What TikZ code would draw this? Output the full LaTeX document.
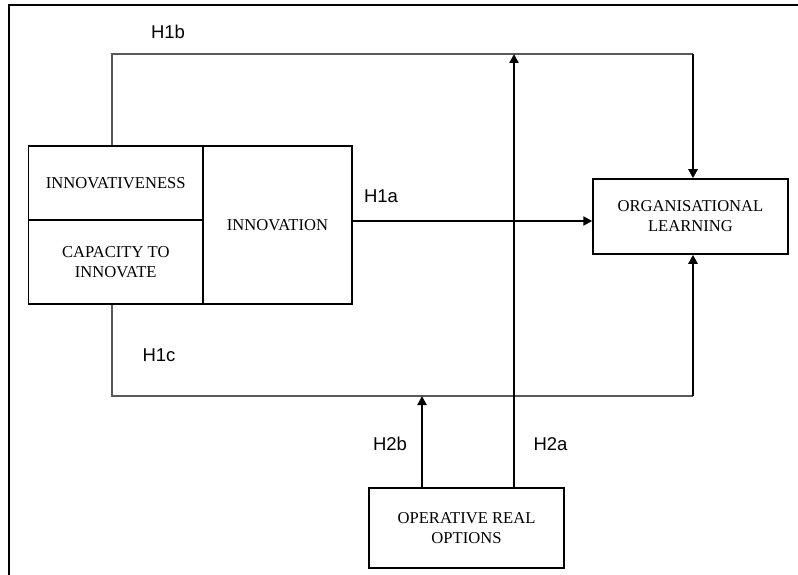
\documentclass[tikz,border=0pt]{standalone}
\usepackage{fontspec}
\setmainfont{Liberation Serif}
\newfontfamily\arialf{Liberation Sans}
\usetikzlibrary{arrows.meta}
\begin{document}
\begin{tikzpicture}[x=1pt,y=-1pt,
  boxs/.style={draw=black,line width=1.5pt,align=center,inner sep=0pt,
    font=\fontsize{16.6}{20}\selectfont},
  thinln/.style={draw=black!65,line width=1.1pt},
  thickln/.style={draw=black,line width=2.6pt},
  arr/.style={thickln,-{Triangle[length=9pt,width=9pt]}},
  hlab/.style={font=\arialf\fontsize{18.5}{20}\selectfont,inner sep=0pt}]
\useasboundingbox (0,0) rectangle (798,575);
% frame (cropped)
\draw[line width=1.2pt] (9,575) -- (9,5) -- (798,5);
% boxes
\node[boxs,minimum width=174.5pt,minimum height=74pt] (inv) at (115.75,183) {INNOVATIVENESS};
\node[boxs,minimum width=174.5pt,minimum height=84pt] (cap) at (115.75,262) {CAPACITY TO\\INNOVATE};
\node[boxs,minimum width=149pt,minimum height=158pt] (innov) at (277.5,225) {INNOVATION};
\node[boxs,minimum width=195pt,minimum height=75pt] (ol) at (690.5,216.5) {ORGANISATIONAL\\LEARNING};
\node[boxs,minimum width=195pt,minimum height=80pt] (oro) at (466.5,528) {OPERATIVE REAL\\OPTIONS};
% helper coordinates
\coordinate (tl) at (112,54);
\coordinate (tr) at (693,54);
\coordinate (bl) at (112,396);
\coordinate (br) at (693,396);
\coordinate (ya) at (0,221);
\coordinate (xa) at (514,0);
\coordinate (xb) at (422,0);
% H1b
\draw[thinln] (inv.north -| tl) -- (tl) -- (tr);
\draw[arr] (tr) -- (ol.north -| tr);
% H1c
\draw[thinln] (cap.south -| bl) -- (bl) -- (br);
\draw[arr] (br) -- (ol.south -| br);
% H1a
\draw[arr] (innov.east |- ya) -- (ol.west |- ya);
% H2a
\draw[arr] (oro.north -| xa) -- (xa |- tl);
% H2b
\draw[arr] (oro.north -| xb) -- (xb |- bl);
% labels
\node[hlab] (l1b) at (168,32) {H1b};
\node[hlab] (l1a) at (381,196) {H1a};
\node[hlab] (l1c) at (159,355) {H1c};
\node[hlab] (l2b) at (390,444) {H2b};
\node[hlab] (l2a) at (550.5,444) {H2a};
\end{tikzpicture}
\end{document}
